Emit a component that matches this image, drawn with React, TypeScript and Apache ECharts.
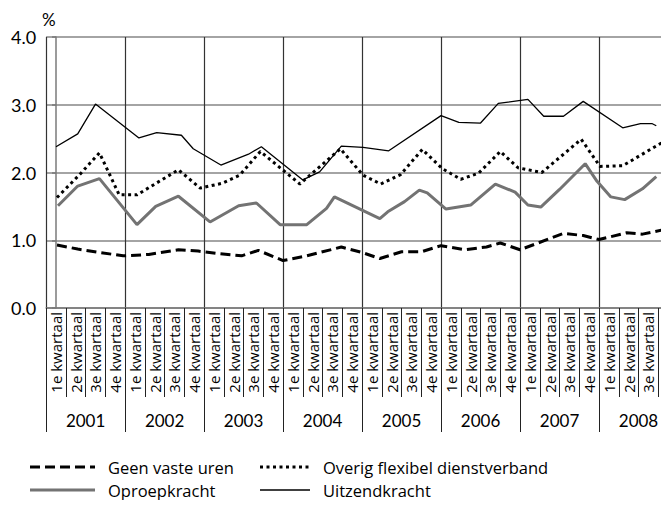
import React, { useEffect, useRef } from "react";
import * as echarts from "echarts";

// Categories
const years = ["2001", "2002", "2003", "2004", "2005", "2006", "2007", "2008"];
const quarterNames = ["1e kwartaal", "2e kwartaal", "3e kwartaal", "4e kwartaal"];
const yTicks = [0, 1, 2, 3, 4];
const seriesNames = ["Geen vaste uren", "Overig flexibel dienstverband", "Oproepkracht", "Uitzendkracht"];

// Series: [quarter position (0 = 1e kwartaal 2001), percentage]
const geenVasteUren = [
  [0.05, 0.93], [1.1, 0.87], [2.2, 0.82], [3.4, 0.77], [4.7, 0.79], [6.2, 0.86],
  [7.2, 0.84], [8.3, 0.8], [9.4, 0.77], [10.25, 0.85], [11.5, 0.7], [12.7, 0.77],
  [14.45, 0.9], [15.5, 0.82], [16.4, 0.73], [17.5, 0.83], [18.5, 0.83], [19.5, 0.92],
  [20.7, 0.86], [21.8, 0.9], [22.5, 0.96], [23.5, 0.86], [25.7, 1.1], [26.7, 1.07],
  [27.5, 1.01], [28.9, 1.11], [29.7, 1.09], [30.7, 1.15],
];

const overigFlexibel = [
  [0.05, 1.63], [1.2, 1.97], [2.2, 2.29], [3.2, 1.67], [4.1, 1.67], [6.2, 2.04],
  [7.3, 1.77], [8.4, 1.84], [9.3, 1.96], [10.35, 2.31], [12.35, 1.83], [14.4, 2.35],
  [15.55, 1.96], [16.45, 1.83], [17.45, 1.97], [18.55, 2.34], [19.55, 2.06],
  [20.5, 1.9], [21.4, 1.99], [22.5, 2.31], [23.4, 2.07], [24.6, 2.0], [26.6, 2.49],
  [27.55, 2.09], [28.7, 2.1], [30.8, 2.46],
];

const oproepkracht = [
  [0.1, 1.51], [1.1, 1.8], [2.2, 1.91], [4.1, 1.23], [5.05, 1.5], [6.2, 1.65],
  [7.8, 1.27], [9.25, 1.51], [10.15, 1.55], [11.35, 1.23], [12.7, 1.23], [13.7, 1.47],
  [14.1, 1.64], [16.4, 1.32], [16.8, 1.42], [17.65, 1.57], [18.4, 1.74], [18.8, 1.7],
  [19.75, 1.46], [21.0, 1.52], [22.25, 1.83], [23.25, 1.71], [23.9, 1.52],
  [24.55, 1.49], [25.5, 1.75], [26.8, 2.13], [27.4, 1.87], [28.1, 1.64], [28.8, 1.6],
  [29.7, 1.76], [30.4, 1.94],
];

const uitzendkracht = [
  [0.0, 2.38], [1.1, 2.57], [2.0, 3.01], [4.2, 2.51], [5.1, 2.59], [6.35, 2.55],
  [6.95, 2.35], [8.35, 2.11], [9.75, 2.27], [10.4, 2.38], [12.5, 1.89], [13.35, 2.01],
  [14.45, 2.39], [15.55, 2.37], [16.85, 2.32], [19.5, 2.84], [20.4, 2.74], [21.5, 2.73],
  [22.4, 3.02], [23.9, 3.08], [24.7, 2.83], [25.7, 2.83], [26.7, 3.05], [28.7, 2.66],
  [29.6, 2.72], [30.2, 2.72], [30.4, 2.69],
];

const FONT = "Lato, 'Open Sans', sans-serif";
const FONT2 = "'Open Sans', Lato, sans-serif";

const styles = [
  { stroke: "#000", lineWidth: 3, lineDash: [10, 5] },
  { stroke: "#000", lineWidth: 3, lineDash: [3, 3.5] },
  { stroke: "#737373", lineWidth: 3, lineDash: null as any },
  { stroke: "#000", lineWidth: 1.3, lineDash: null as any },
];

export default function App() {
  const ref = useRef<HTMLDivElement>(null);

  useEffect(() => {
    if (!ref.current) return;
    const chart = echarts.init(ref.current, undefined, { renderer: "svg" });
    const quarterCategories = years.flatMap(() => quarterNames);

    // legend built as graphic: 2 columns x 2 rows
    const legendCols = [
      { x1: 22, x2: 87, tx: 100 },
      { x1: 252, x2: 302, tx: 315 },
    ];
    const legendRows = [459, 482];
    const graphics: any[] = [
      {
        type: "text",
        x: 34,
        y: 11,
        style: { text: "%", fontSize: 17, fontFamily: FONT, fill: "#000", verticalAlign: "middle", align: "left" },
      },
    ];
    seriesNames.forEach((name, i) => {
      const col = legendCols[i % 2];
      const y = legendRows[Math.floor(i / 2)];
      const st = styles[i];
      graphics.push({
        type: "line",
        shape: { x1: col.x1, y1: y, x2: col.x2, y2: y },
        style: { stroke: st.stroke, lineWidth: st.lineWidth, lineDash: st.lineDash || undefined, lineCap: "butt" },
      });
      graphics.push({
        type: "text",
        x: col.tx,
        y,
        style: { text: name, fontSize: 16.5, fontFamily: FONT2, fill: "#000", verticalAlign: "middle", align: "left" },
      });
    });

    const lineStyleOf = (i: number) => ({
      color: styles[i].stroke,
      width: styles[i].lineWidth,
      type: styles[i].lineDash ? styles[i].lineDash : "solid",
      cap: "butt",
    });

    chart.setOption({
      animation: false,
      textStyle: { fontFamily: FONT, color: "#000" },
      grid: { left: 35, top: 29, width: 635, height: 271, containLabel: false },
      xAxis: [
        {
          type: "value",
          position: "top",
          min: -0.5,
          max: 31.5,
          show: false,
        },
        {
          type: "category",
          position: "bottom",
          data: quarterCategories,
          boundaryGap: true,
          axisLine: { show: true, lineStyle: { color: "#7a7a7a", width: 1.5 } },
          axisTick: {
            show: true,
            interval: 0,
            alignWithLabel: false,
            length: 89,
            lineStyle: { color: "#222", width: 1 },
          },
          axisLabel: {
            interval: 0,
            rotate: 90,
            margin: 4,
            fontSize: 15,
            fontFamily: FONT2,
            color: "#000",
            hideOverlap: false,
          },
          splitLine: { show: false },
        },
        {
          type: "category",
          position: "bottom",
          data: years,
          boundaryGap: true,
          axisLine: { show: false },
          axisTick: {
            show: true,
            interval: 0,
            length: 124,
            lineStyle: { color: "#222", width: 1 },
          },
          axisLabel: {
            interval: 0,
            margin: 104,
            fontSize: 17,
            fontFamily: FONT,
            color: "#000",
          },
          splitLine: { show: true, interval: 0, lineStyle: { color: "#333", width: 1.2 } },
        },
      ],
      yAxis: {
        type: "value",
        min: yTicks[0],
        max: yTicks[yTicks.length - 1],
        interval: 1,
        axisLine: { show: true, lineStyle: { color: "#7a7a7a", width: 1.5 } },
        axisTick: { show: true, length: 4, lineStyle: { color: "#7a7a7a", width: 1.5 } },
        axisLabel: {
          margin: 10,
          fontSize: 18,
          fontFamily: FONT,
          color: "#000",
          formatter: (v: number) => v.toFixed(1),
        },
        splitLine: { show: true, lineStyle: { color: "#868686", width: 1.5 } },
      },
      graphic: graphics,
      series: [
        {
          name: seriesNames[2],
          type: "line",
          xAxisIndex: 0,
          data: oproepkracht,
          symbol: "none",
          itemStyle: { color: styles[2].stroke },
          lineStyle: lineStyleOf(2),
        },
        {
          name: seriesNames[3],
          type: "line",
          xAxisIndex: 0,
          data: uitzendkracht,
          symbol: "none",
          itemStyle: { color: styles[3].stroke },
          lineStyle: lineStyleOf(3),
        },
        {
          name: seriesNames[1],
          type: "line",
          xAxisIndex: 0,
          data: overigFlexibel,
          symbol: "none",
          itemStyle: { color: styles[1].stroke },
          lineStyle: lineStyleOf(1),
        },
        {
          name: seriesNames[0],
          type: "line",
          xAxisIndex: 0,
          data: geenVasteUren,
          symbol: "none",
          itemStyle: { color: styles[0].stroke },
          lineStyle: lineStyleOf(0),
        },
      ],
    });

    return () => chart.dispose();
  }, []);

  return (
    <div style={{ width: 661, height: 492, overflow: "hidden" }}>
      <div ref={ref} style={{ width: 690, height: 492 }} />
    </div>
  );
}
